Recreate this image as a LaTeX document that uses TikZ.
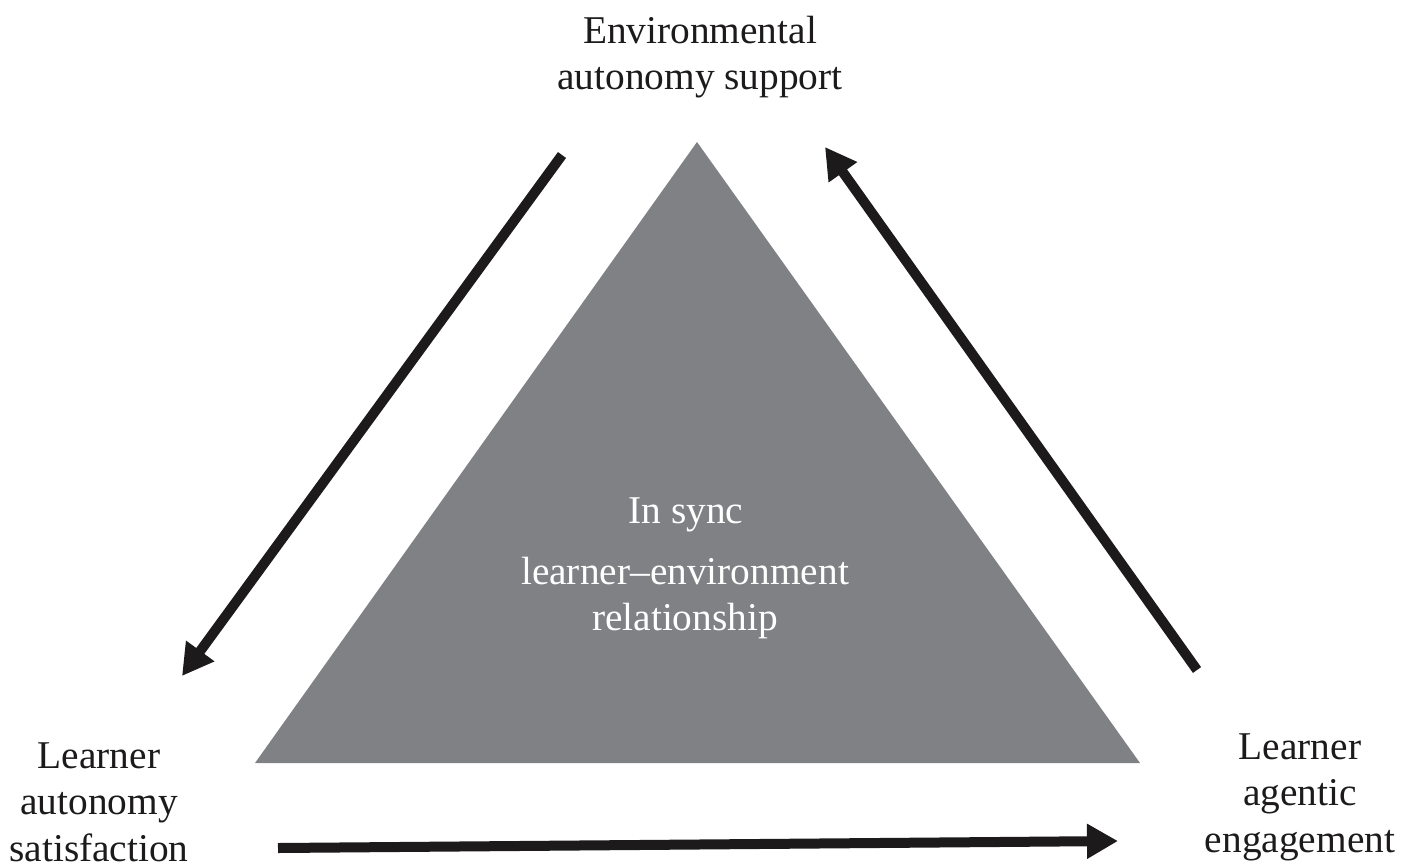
\documentclass[tikz,border=0pt]{standalone}
\usepackage{fontspec}
\setmainfont{Liberation Serif}
\usetikzlibrary{arrows.meta}
\definecolor{trigray}{RGB}{128,129,133}
\definecolor{inkblack}{RGB}{28,26,27}
\begin{document}
\begin{tikzpicture}[
  label text/.style={align=center, text=inkblack, font=\fontsize{11.2}{13.2}\selectfont},
  inner text/.style={align=center, text=white, font=\fontsize{11.2}{13.2}\selectfont},
  flow/.style={draw=inkblack, line width=0.1cm,
    -{Triangle[length=0.31cm, width=0.33cm]}},
]
\useasboundingbox (0,0) rectangle (14.03,8.62);

% central triangle
\coordinate (apex) at (6.97,7.20);
\coordinate (bl) at (2.55,0.99);
\coordinate (br) at (11.40,0.99);
\fill[trigray] (apex) -- (bl) -- (br) -- cycle;

\node[inner text] (sync) at (6.86,3.47) {In sync};
\node[inner text] (rel) at (6.85,2.64) {learner–environment\\relationship};

% corner labels
\node[label text] (env) at (7.00,8.05) {Environmental\\autonomy support};
\node[label text] (sat) at (0.99,0.60) {Learner\\autonomy\\satisfaction};
\node[label text] (eng) at (13.00,0.65) {Learner\\agentic\\engagement};

% arrow end points
\coordinate (a1s) at (5.62,7.07);
\coordinate (a1e) at (1.82,1.86);
\coordinate (a2s) at (2.78,0.14);
\coordinate (a2e) at (11.18,0.21);
\coordinate (a3s) at (11.97,1.92);
\coordinate (a3e) at (8.25,7.15);

\draw[flow] (a1s) -- (a1e);
\draw[flow] (a2s) -- (a2e);
\draw[flow] (a3s) -- (a3e);
\end{tikzpicture}
\end{document}
